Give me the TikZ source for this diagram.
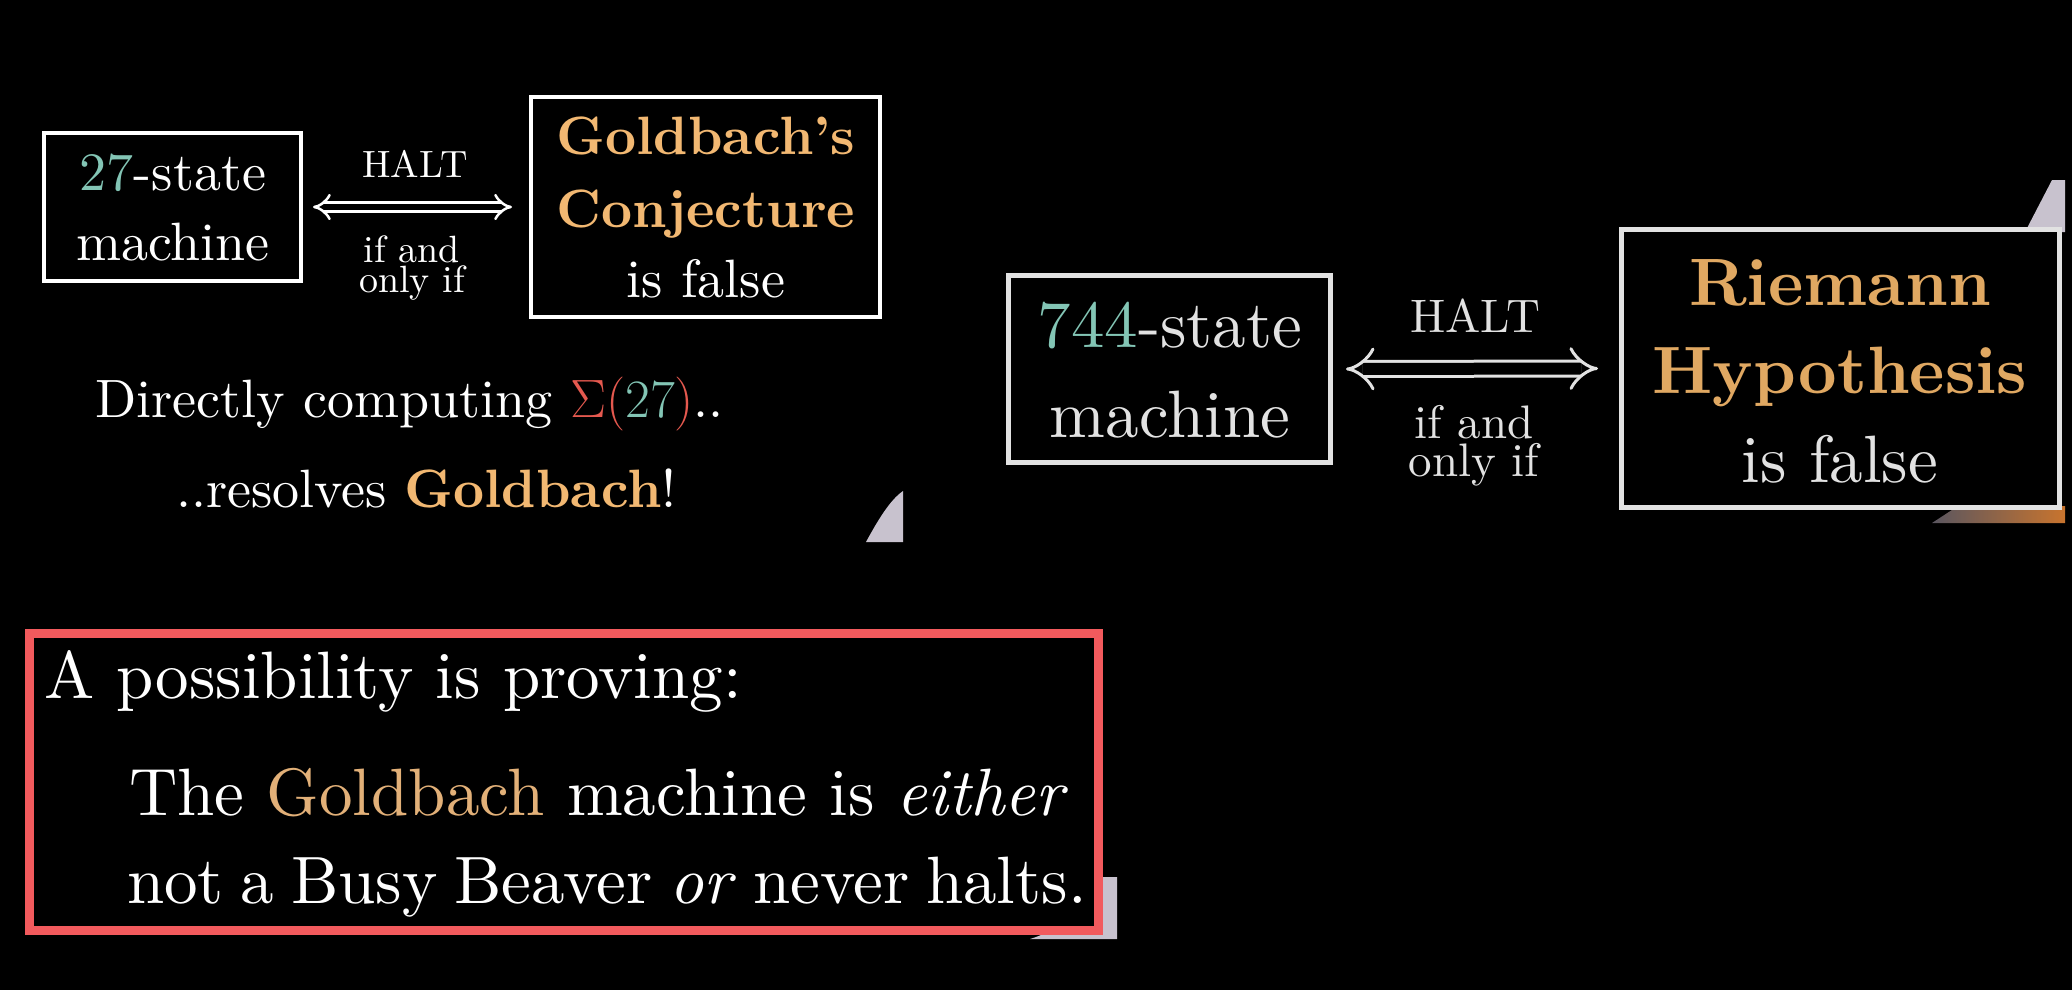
\RequirePackage{fix-cm}
\documentclass[tikz,border=0pt]{standalone}
\usepackage[no-math]{fontspec}
\setmainfont{lmroman10-regular}[Extension=.otf, BoldFont=lmroman10-bold, ItalicFont=lmroman10-italic, BoldItalicFont=lmroman10-bolditalic]
\usetikzlibrary{arrows.meta}
\newcommand\myfs[2]{\fontsize{#1}{#2}\selectfont}
\definecolor{tealc}{HTML}{83C5B5}
\definecolor{goldc}{HTML}{F2B872}
\definecolor{goldr}{HTML}{E0A862}
\definecolor{goldb}{HTML}{E2B078}
\definecolor{sigred}{HTML}{E5594F}
\definecolor{boxred}{HTML}{F25A5D}
\definecolor{rgray}{HTML}{E2E2E2}
\definecolor{artif}{HTML}{C8C2CE}
\definecolor{artdark}{HTML}{5A5660}
\definecolor{artorange}{HTML}{C8742E}
\tikzset{
  lbox/.style={draw=white, line width=4pt, fill=black, inner sep=0pt},
  rbox/.style={draw=rgray, line width=5pt, fill=black, inner sep=0pt},
  ltxt/.style={text=white, font=\myfs{54}{54}, inner sep=0pt},
  lsm/.style={text=white, font=\myfs{38}{38}, inner sep=0pt},
  rtxt/.style={text=rgray, font=\myfs{67}{67}, inner sep=0pt},
  rsm/.style={text=rgray, font=\myfs{47}{47}, inner sep=0pt},
  btxt/.style={text=white, font=\myfs{67}{67}, inner sep=0pt},
  ldbl/.style={draw=white, line width=2.5pt, double=black, double distance=6.5pt, {Implies}-{Implies}},
  rdbl/.style={draw=rgray, line width=3pt, double=black, double distance=12pt, {Implies}-{Implies}},
  redbox/.style={draw=boxred, line width=9pt, fill=black, inner sep=0pt}
}
\begin{document}
\begin{tikzpicture}[x=1pt,y=-1pt]
\fill[black] (0,0) rectangle (2072,990);
\useasboundingbox (0,0) rectangle (2072,990);
% photo fragments peeking out
\fill[artif] (903,491) .. controls (890,500) and (878,520) .. (866,542) -- (903,542) -- cycle;
\fill[artif] (2052,180) -- (2065,180) -- (2065,232) -- (2025,232) -- cycle;
\shade[left color=artdark, right color=artorange] (1932,523) -- (1958,506) -- (2065,506) -- (2065,523) -- cycle;
\fill[artif] (1117,877) -- (1117,939) -- (1030,939) .. controls (1060,930) and (1090,905) .. (1100,877) -- cycle;

% ---- left panel ----
\node[lbox, minimum width=257pt, minimum height=148pt] (m27) at (172.5,207) {};
\node[lbox, minimum width=349pt, minimum height=220pt] (gc) at (705.5,207) {};
\node[ltxt, anchor=base] (m27a) at (173,190) {\textcolor{tealc}{27}-state};
\node[ltxt, anchor=base] (m27b) at (173,260) {machine};
\node[ltxt, anchor=base] (gca) at (706,154) {\bfseries\textcolor{goldc}{Goldbach’s}};
\node[ltxt, anchor=base] (gcb) at (706,227) {\bfseries\textcolor{goldc}{Conjecture}};
\node[ltxt, anchor=base] (gcc) at (706,297) {is false};
\draw[ldbl] ([xshift=10pt]m27.east) -- ([xshift=-17pt]gc.west);
\node[lsm, anchor=base] (lhalt) at (415,177) {HALT};
\node[lsm, anchor=base] (lif1) at (412,262) {if and};
\node[lsm, anchor=base] (lif2) at (412,292) {only if};
\node[ltxt, anchor=base west] (dc) at (95,417) {Directly computing $\textcolor{sigred}{\Sigma(}\textcolor{tealc}{27}\textcolor{sigred}{)}$..};
\node[ltxt, anchor=base west] (rg) at (176,507) {..resolves \textbf{\textcolor{goldc}{Goldbach}}!};

% ---- right panel ----
\node[rbox, minimum width=322pt, minimum height=187pt] (m744) at (1169.5,369) {};
\node[rbox, minimum width=438pt, minimum height=278pt] (rh) at (1840.5,368.5) {};
\node[rtxt, anchor=base] (m744a) at (1170,347) {\textcolor{tealc}{744}-state};
\node[rtxt, anchor=base] (m744b) at (1170,437) {machine};
\node[rtxt, anchor=base] (rha) at (1840,305) {\bfseries\textcolor{goldr}{Riemann}};
\node[rtxt, anchor=base] (rhb) at (1840,393) {\bfseries\textcolor{goldr}{Hypothesis}};
\node[rtxt, anchor=base] (rhc) at (1840,482) {is false};
\draw[rdbl] ([xshift=13pt]m744.east) -- ([xshift=-21pt]rh.west);
\node[rsm, anchor=base] (rhalt) at (1475,332) {HALT};
\node[rsm, anchor=base] (rif1) at (1474,438) {if and};
\node[rsm, anchor=base] (rif2) at (1474,476) {only if};

% ---- bottom box ----
\node[redbox, minimum width=1069pt, minimum height=297pt] (pb) at (564,781.5) {};
\node[btxt, anchor=base west] (pba) at (44,698) {A possibility is proving:};
\node[btxt, anchor=base west] (pbb) at (129,815) {The \textcolor{goldb}{Goldbach} machine is \textit{either}};
\node[btxt, anchor=base west] (pbc) at (127,903) {\spaceskip=0.25em not a Busy Beaver \textit{or} never halts.};
\end{tikzpicture}
\end{document}
